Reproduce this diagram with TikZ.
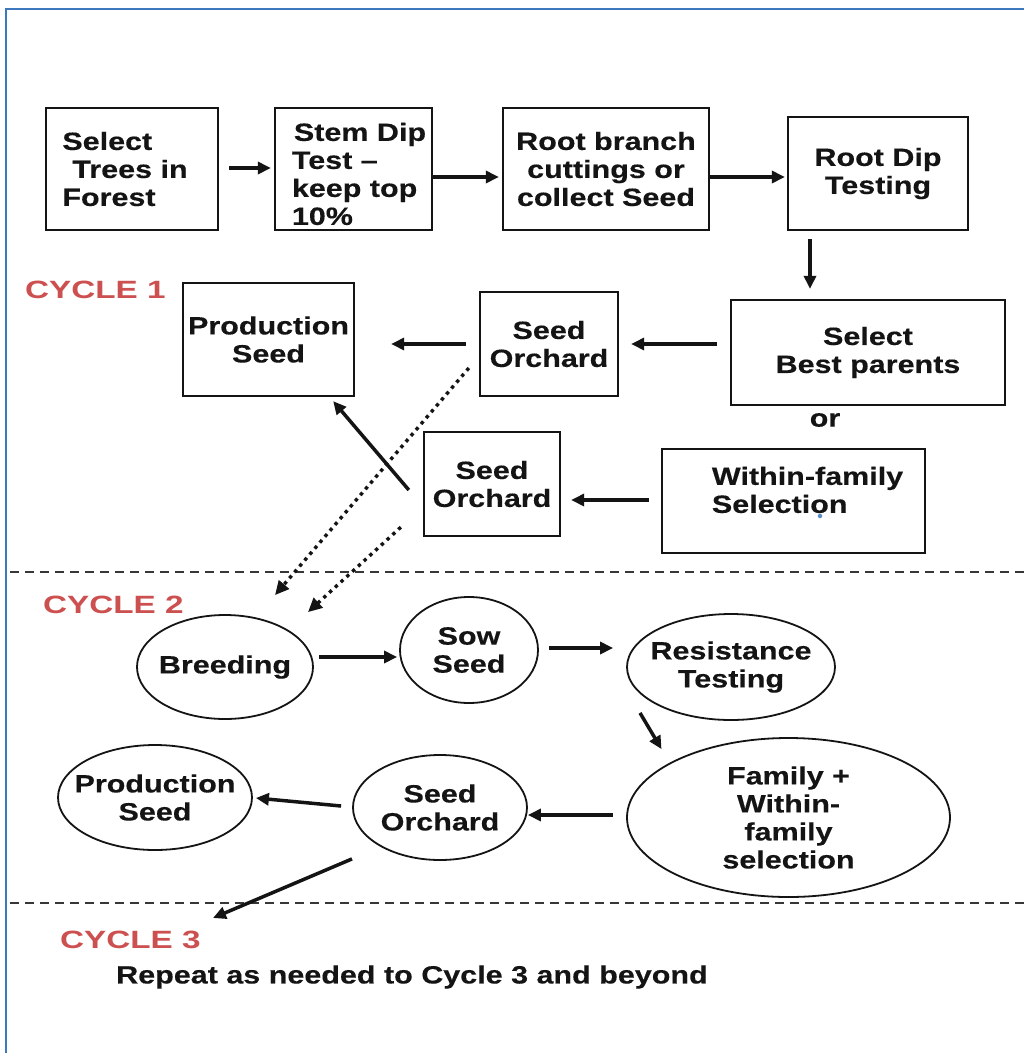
\documentclass[tikz,border=0pt]{standalone}
\usepackage{fontspec}
\newfontfamily\dfont{Liberation Sans}[FakeStretch=1.22,FakeBold=0.3]
\newfontfamily\cfont{Liberation Sans}[FakeStretch=1.33]
\usetikzlibrary{arrows.meta,calc,shapes.geometric}
\definecolor{frameblue}{RGB}{60,120,190}
\definecolor{cyclered}{RGB}{205,80,80}
\definecolor{ink}{RGB}{20,20,20}
\begin{document}
\begin{tikzpicture}[x=1pt,y=-1pt,
  txtfont/.style={font=\dfont\bfseries\fontsize{25}{28}\selectfont, text=ink},
  box/.style={draw=ink, line width=2.3pt, rectangle, inner sep=0pt, align=center, txtfont},
  ell/.style={draw=ink, line width=1.8pt, ellipse, inner sep=0pt},
  lbl/.style={align=center, txtfont, inner sep=0pt},
  arr/.style={draw=ink, line width=3.5pt, -{Triangle[length=13pt,width=12pt]}},
  dotarr/.style={draw=ink, line width=3.4pt, dash pattern=on 3.4pt off 4.4pt, -{Triangle[length=14pt,width=13pt]}},
  sepline/.style={draw=ink!85, line width=1.5pt, dash pattern=on 9pt off 6pt},
  cyc/.style={font=\cfont\bfseries\fontsize{25}{28}\selectfont, text=cyclered, inner sep=0pt},
]
\useasboundingbox (0,0) rectangle (1024,1053);
\fill[white] (0,0) rectangle (1024,1053);

% frame
\coordinate (fr1) at (1024,9);
\coordinate (fr2) at (6,9);
\coordinate (fr3) at (6,1053);
\draw[frameblue, line width=2pt] (fr1) -- (fr2) -- (fr3);

% top row
\node[box, minimum width=172pt, minimum height=122pt, align=left] (A) at (132,169)
  {Select\\\hspace*{10pt}Trees in\kern14pt\mbox{}\\Forest};
\node[box, minimum width=157pt, minimum height=122pt, align=left] (B) at (353.5,169)
  {\rule{0pt}{28pt}\hspace*{13pt}Stem Dip\\\hspace*{11pt}Test –\\\hspace*{11pt}keep top\\\hspace*{11pt}10\%};
\node[box, minimum width=206pt, minimum height=122pt] (C) at (606,169)
  {Root branch\\cuttings or\\collect Seed};
\node[box, minimum width=180pt, minimum height=113pt] (D) at (878,173.5)
  {Root Dip\\Testing};

% cycle 1
\node[box, minimum width=274pt, minimum height=105pt] (E) at (868,352.5)
  {Select\\Best parents};
\node[box, minimum width=138pt, minimum height=104pt] (F) at (549,344)
  {Seed\\Orchard};
\node[box, minimum width=171pt, minimum height=113pt] (G) at (268.5,339.5)
  {Production\\Seed};
\node[box, minimum width=136pt, minimum height=104pt] (H) at (492,484)
  {Seed\\Orchard};
\node[box, minimum width=263pt, minimum height=104pt, align=left] (I) at (793.5,501)
  {\hspace*{28pt}Within-family\\\hspace*{28pt}Selection\\[-14pt]\strut};
\node[circle, fill=frameblue!85, inner sep=0pt, minimum size=4.5pt] (dot) at (820,516) {};
\node[lbl] (or) at (825,420) {or};

\node[cyc, anchor=west] (c1) at (25,290) {CYCLE 1};
\node[cyc, anchor=west] (c2) at (43,605) {CYCLE 2};
\node[cyc, anchor=west] (c3) at (60,940) {CYCLE 3};

% separators
\coordinate (s1a) at (10,572);
\coordinate (s1b) at (1024,572);
\coordinate (s2a) at (10,903);
\coordinate (s2b) at (1024,903);
\draw[sepline] (s1a) -- (s1b);
\draw[sepline] (s2a) -- (s2b);

% cycle 2 ellipses
\node[ell, minimum width=176pt, minimum height=104pt, label={[lbl]center:Breeding}] (J) at (225,667) {};
\node[ell, minimum width=138pt, minimum height=106pt, label={[lbl]center:Sow\\Seed}] (K) at (469,650) {};
\node[ell, minimum width=208pt, minimum height=106pt, label={[lbl]center:Resistance\\Testing}] (L) at (731,667) {};
\node[ell, minimum width=323pt, minimum height=159pt, label={[lbl]center:Family +\\Within-\\family\\selection}] (M) at (788.5,817.5) {};
\node[ell, minimum width=174pt, minimum height=105pt, label={[lbl]center:Seed\\Orchard}] (N) at (440,807.5) {};
\node[ell, minimum width=194pt, minimum height=105pt, label={[lbl]center:Production\\Seed}] (O) at (155,797.5) {};

\coordinate (c3tip) at (213,918);
\node[lbl, anchor=west] (rep) at (116,977) {Repeat as needed to Cycle 3 and beyond};

% arrows
\draw[arr] ($(A.east)+(10,-1)$) -- ($(B.west)+(-3,-1)$);
\draw[arr] ($(B.east)+(0,8)$) -- ($(C.west)+(-3,8)$);
\draw[arr] ($(C.east)+(0,8)$) -- ($(D.west)+(-2,3.5)$);
\draw[arr] ($(D.south)+(-68,8)$) -- ($(E.north)+(-58,-10)$);
\draw[arr] ($(E.west)+(-13,-8.5)$) -- ($(F.east)+(12,0)$);
\draw[arr] ($(F.west)+(-13,0)$) -- ($(G.east)+(36,4.5)$);
\draw[arr] ($(I.west)+(-12,-1)$) -- ($(H.east)+(10,16)$);
\draw[arr] ($(H.west)+(-14,6)$) -- ($(G.south east)+(-22,4)$);
\draw[dotarr] ($(F.west)+(-10,24)$) -- ($(J.north)+(50,-19)$);
\draw[dotarr] ($(H.south west)+(-22,-10)$) -- ($(J.north)+(83,-2)$);

\draw[arr] ($(J.east)+(5,-10)$) -- ($(K.west)+(-2,7)$);
\draw[arr] ($(K.east)+(10,-2)$) -- ($(L.west)+(-13,-19)$);
\draw[arr] ($(L.south)+(-91,-8)$) -- ($(M.north)+(-127,12)$);
\draw[arr] ($(M.west)+(-13,-2.5)$) -- ($(N.east)+(0,7.5)$);
\draw[arr] ($(N.west)+(-11,-1.5)$) -- ($(O.east)+(3,0.5)$);
\draw[arr] ($(N.south)+(-88,-2)$) -- (c3tip);
\end{tikzpicture}
\end{document}
